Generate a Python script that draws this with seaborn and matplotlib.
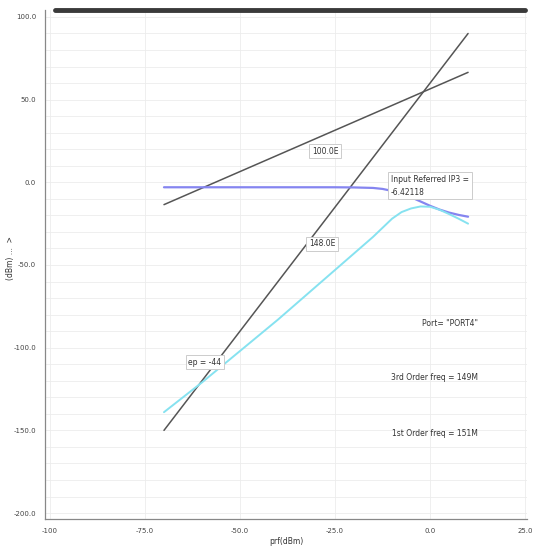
import numpy as np
import pandas as pd
import matplotlib
matplotlib.use("Agg")
import matplotlib.pyplot as plt
import seaborn as sns
from matplotlib.lines import Line2D
from matplotlib.ticker import MultipleLocator, FormatStrFormatter, FuncFormatter

# Potência de entrada (dBm) e curvas
pin = [-70, -60, -50, -40, -30, -25, -20, -15, -12.5, -10, -7.5, -5, -2.5, 0, 2.5, 5, 7.5, 10]
fund = [-3.0, -3.0, -3.0, -3.0, -3.0, -3.0, -3.1, -3.4, -4.0, -5.2, -6.8, -9.0, -11.6, -14.2, -16.5, -18.3, -19.7, -20.8]
third = [-139, -121, -102, -83, -63, -53, -43, -33, -27.5, -22, -18, -15.8, -14.6, -14.8, -16.6, -19.2, -22, -25]

# Retas extrapoladas (1a e 3a ordem)
pin_ext = [-70, 10]
fund_ext = [-13.5, 66.5]
third_ext = [-150, 90]

df = pd.DataFrame({'pin': pin, 'fund': fund, 'third': third})
df_ext = pd.DataFrame({'pin': pin_ext, 'fund': fund_ext, 'third': third_ext})

sns.set_style("white")
plt.rcParams['font.family'] = ['DejaVu Sans']

fig = plt.figure(figsize=(5.35, 5.54), dpi=100)
ax = fig.add_axes([45 / 535, 35 / 554, 482 / 535, 509 / 554])

sns.lineplot(data=df_ext, x='pin', y='fund', ax=ax, color='#555555', lw=1.1)
sns.lineplot(data=df_ext, x='pin', y='third', ax=ax, color='#555555', lw=1.1)
sns.lineplot(data=df, x='pin', y='fund', ax=ax, color='#8585f0', lw=1.6)
sns.lineplot(data=df, x='pin', y='third', ax=ax, color='#86e2f0', lw=1.4)

ax.set_xlim(-101.3, 25.5)
ax.set_ylim(-203.6, 104.2)

ax.xaxis.set_major_locator(MultipleLocator(25))
ax.xaxis.set_minor_locator(MultipleLocator(5))
ax.yaxis.set_major_locator(MultipleLocator(50))
ax.yaxis.set_minor_locator(MultipleLocator(10))
ax.xaxis.set_major_formatter(FuncFormatter(lambda v, p: '-100' if v <= -100 else f'{v:.1f}'))
ax.yaxis.set_major_formatter(FormatStrFormatter('%.1f'))
ax.tick_params(axis='both', which='major', labelsize=5, colors='#444444',
               length=3, width=0.8, direction='out')
ax.tick_params(axis='both', which='minor', length=2, width=0.6, color='#666666')

ax.grid(True, which='major', axis='x', color='#ececec', lw=0.6)
ax.grid(True, which='minor', axis='y', color='#ececec', lw=0.6)
ax.grid(True, which='major', axis='y', color='#ececec', lw=0.6)

for s in ['left', 'bottom']:
    ax.spines[s].set_color('#888888')
    ax.spines[s].set_linewidth(0.9)
ax.spines['right'].set_visible(False)
ax.spines['top'].set_visible(False)

# barra escura no topo do painel
fig.add_artist(Line2D([55 / 535, 525 / 535], [1 - 10 / 554, 1 - 10 / 554],
                      color='#3a3a3a', lw=3.5, solid_capstyle='round'))

ax.set_xlabel('prf(dBm)', fontsize=5.5, color='#333333', labelpad=2)
ax.set_ylabel('')
fig.text(11 / 535, 1 - 258 / 554, '(dBm) ...  >', rotation=90, fontsize=5.5,
         color='#333333', ha='center', va='center')

box = dict(boxstyle='square,pad=0.35', fc='white', ec='#cccccc', lw=0.7)
ax.text(-27.6, 18.9, '100.0E', fontsize=5.5, color='#333333',
        ha='center', va='center', bbox=box)
ax.text(-28.4, -37.3, '148.0E', fontsize=5.5, color='#333333',
        ha='center', va='center', bbox=box)
ax.text(-10.3, -2.0, 'Input Referred IP3 =\n-6.42118', fontsize=5.5, color='#333333',
        ha='left', va='center', linespacing=1.6, bbox=box)
ax.text(-59.2, -108.7, 'ep = -44', fontsize=5.5, color='#333333',
        ha='center', va='center', bbox=box)

ax.text(12.6, -85.1, 'Port= "PORT4"', fontsize=5.5, color='#333333', ha='right', va='center')
ax.text(12.6, -117.8, '3rd Order freq = 149M', fontsize=5.5, color='#333333', ha='right', va='center')
ax.text(12.6, -151.7, '1st Order freq = 151M', fontsize=5.5, color='#333333', ha='right', va='center')

fig.savefig('out.png', dpi=100, facecolor='white')
